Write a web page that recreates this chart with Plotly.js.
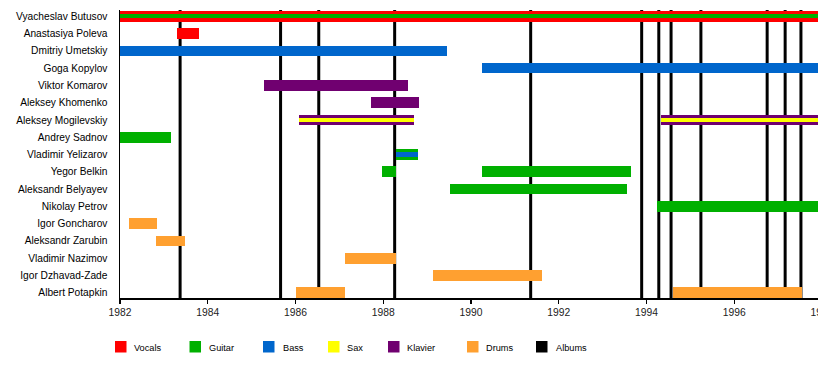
<!DOCTYPE html>
<html>
<head>
<meta charset="utf-8">
<script src="https://cdn.plot.ly/plotly-3.0.1.min.js"></script>
<style>
html, body { margin: 0; padding: 0; overflow: hidden; background: #fff; }
#chart { width: 822px; height: 378px; }
</style>
</head>
<body>
<div id="chart"></div>
<script>
// ---- data ----
const members = [
  "Vyacheslav Butusov", "Anastasiya Poleva", "Dmitriy Umetskiy", "Goga Kopylov",
  "Viktor Komarov", "Aleksey Khomenko", "Aleksey Mogilevskiy", "Andrey Sadnov",
  "Vladimir Yelizarov", "Yegor Belkin", "Aleksandr Belyayev", "Nikolay Petrov",
  "Igor Goncharov", "Aleksandr Zarubin", "Vladimir Nazimov", "Igor Dzhavad-Zade",
  "Albert Potapkin"
];

// main bars
const vocalsWho  = ["Vyacheslav Butusov", "Anastasiya Poleva"];
const vocalsFrom = [1982, 1983.31];
const vocalsTo   = [1998, 1983.81];

const guitarWho  = ["Andrey Sadnov", "Vladimir Yelizarov", "Yegor Belkin", "Yegor Belkin", "Aleksandr Belyayev", "Nikolay Petrov"];
const guitarFrom = [1982, 1988.29, 1987.98, 1990.24, 1989.53, 1994.25];
const guitarTo   = [1983.17, 1988.80, 1988.29, 1993.65, 1993.56, 1998];

const bassWho  = ["Dmitriy Umetskiy", "Goga Kopylov"];
const bassFrom = [1982, 1990.26];
const bassTo   = [1989.46, 1998];

const klavierWho  = ["Viktor Komarov", "Aleksey Khomenko", "Aleksey Mogilevskiy", "Aleksey Mogilevskiy"];
const klavierFrom = [1985.29, 1987.71, 1986.07, 1994.34];
const klavierTo   = [1988.57, 1988.82, 1988.70, 1998];

const drumsWho  = ["Igor Goncharov", "Aleksandr Zarubin", "Vladimir Nazimov", "Igor Dzhavad-Zade", "Albert Potapkin", "Albert Potapkin"];
const drumsFrom = [1982.21, 1982.83, 1987.12, 1989.14, 1986.02, 1994.61];
const drumsTo   = [1982.84, 1983.48, 1988.30, 1991.62, 1987.13, 1997.55];

// secondary roles (thin stripes)
const guitar2Who  = ["Vyacheslav Butusov"];
const guitar2From = [1982];
const guitar2To   = [1998];

const bass2Who  = ["Vladimir Yelizarov"];
const bass2From = [1988.29];
const bass2To   = [1988.80];

const saxWho  = ["Aleksey Mogilevskiy", "Aleksey Mogilevskiy"];
const saxFrom = [1986.07, 1994.34];
const saxTo   = [1988.70, 1998];

// album release dates
const albums = [1983.37, 1985.66, 1986.53, 1988.26, 1991.36, 1993.89, 1994.28, 1994.56, 1995.24, 1996.75, 1997.16, 1997.52];

const legendLabels = ["Vocals", "Guitar", "Bass", "Sax", "Klavier", "Drums", "Albums"];
const xTicks = [1982, 1984, 1986, 1988, 1990, 1992, 1994, 1996, 1998];

// ---- styles ----
const colors = {
  Vocals: "#ff0000", Guitar: "#00b000", Bass: "#0066cc", Sax: "#ffff00",
  Klavier: "#700070", Drums: "#ffa030", Albums: "#000000"
};
const mainW = 0.62, stripeW = 0.25;

function barTrace(name, who, from, to, width) {
  return {
    type: "bar", orientation: "h", name: name,
    y: who.map(w => members.indexOf(w)),
    base: from,
    x: to.map((t, i) => t - from[i]),
    width: width,
    marker: { color: colors[name], line: { width: 0 } },
    showlegend: false, hoverinfo: "skip"
  };
}

const traces = [
  barTrace("Vocals", vocalsWho, vocalsFrom, vocalsTo, mainW),
  barTrace("Guitar", guitarWho, guitarFrom, guitarTo, mainW),
  barTrace("Bass", bassWho, bassFrom, bassTo, mainW),
  barTrace("Klavier", klavierWho, klavierFrom, klavierTo, mainW),
  barTrace("Drums", drumsWho, drumsFrom, drumsTo, mainW),
  barTrace("Guitar", guitar2Who, guitar2From, guitar2To, stripeW),
  barTrace("Bass", bass2Who, bass2From, bass2To, stripeW),
  barTrace("Sax", saxWho, saxFrom, saxTo, stripeW)
];

const shapes = albums.map(a => ({
  type: "line", xref: "x", yref: "paper", x0: a, x1: a, y0: 0, y1: 1,
  line: { color: colors.Albums, width: 3 }, layer: "below"
}));

// custom legend (pixel layout -> paper coords)
const plotL = 120, plotW = 702, plotB = 298, plotH = 288;
const px = v => (v - plotL) / plotW;
const py = v => (plotB - v) / plotH;
const legSquareX = [115, 189.5, 263, 328, 388, 467, 536];
const legTextX = [134, 209, 283, 347, 407, 486, 556];
const annotations = [];
legendLabels.forEach((lab, i) => {
  shapes.push({
    type: "rect", xref: "paper", yref: "paper",
    x0: px(legSquareX[i]), x1: px(legSquareX[i] + 11.5),
    y0: py(352.5), y1: py(341),
    fillcolor: colors[lab], line: { width: 0 }
  });
  annotations.push({
    xref: "paper", yref: "paper", x: px(legTextX[i] - 2), y: py(347.5),
    xanchor: "left", yanchor: "middle", showarrow: false, text: lab,
    font: { size: 9.2, color: "#000", family: "Liberation Sans, Arial, sans-serif" }
  });
});

const layout = {
  width: 822, height: 378,
  margin: { l: 120, r: 0, t: 10, b: 80 },
  paper_bgcolor: "#fff", plot_bgcolor: "#fff",
  barmode: "overlay", bargap: 0,
  showlegend: false,
  font: { family: "Liberation Sans, Arial, sans-serif", color: "#000" },
  xaxis: {
    range: [1982, 1998], tickvals: xTicks, ticktext: xTicks.map(String),
    showgrid: false, zeroline: false,
    showline: true, linecolor: "#000", linewidth: 1.5,
    ticks: "outside", ticklen: 4, tickwidth: 1.2, tickcolor: "#000",
    ticklabeloverflow: "allow",
    tickfont: { size: 10.3, color: "#222" }
  },
  yaxis: {
    range: [16.307, -0.365],
    tickvals: members.map((m, i) => i), ticktext: members,
    showgrid: false, zeroline: false,
    showline: true, linecolor: "#000", linewidth: 1.5,
    ticks: "", ticklabelstandoff: 9,
    tickfont: { size: 10.2, color: "#000" }
  },
  shapes: shapes,
  annotations: annotations
};

Plotly.newPlot("chart", traces, layout, { displayModeBar: false, staticPlot: true });
</script>
</body>
</html>
